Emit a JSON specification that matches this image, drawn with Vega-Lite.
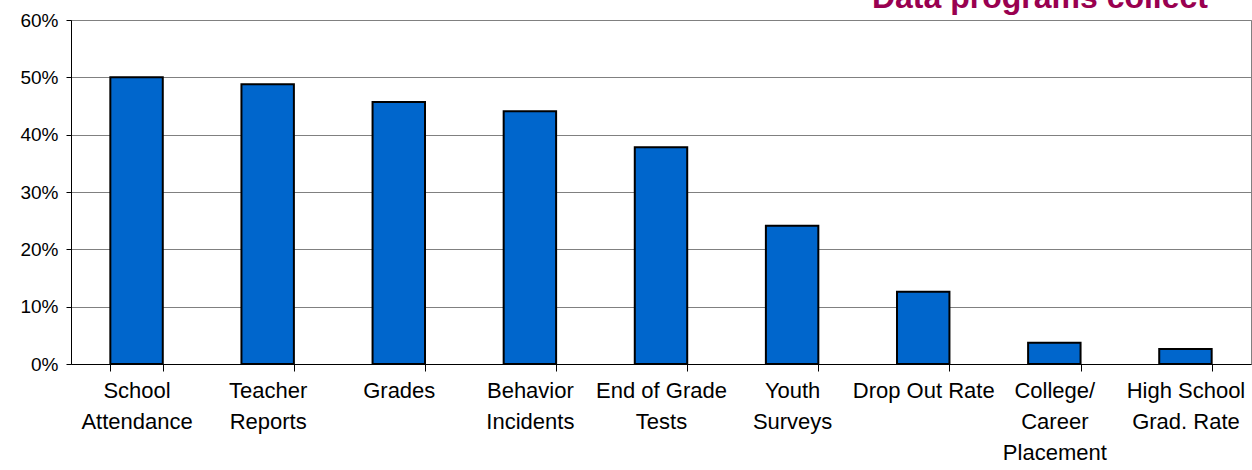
{
  "$schema": "https://vega.github.io/schema/vega-lite/v6.json",
  "width": 1180,
  "height": 344,
  "autosize": "none",
  "padding": {"left": 71, "top": 20, "right": 1, "bottom": 106},
  "background": "white",
  "config": {
    "view": {"stroke": "#808080", "strokeWidth": 1},
    "font": "Liberation Sans"
  },
  "title": {
    "text": "Data programs collect",
    "anchor": "end",
    "frame": "group",
    "color": "#990050",
    "font": "Liberation Sans",
    "fontSize": 32,
    "fontWeight": "bold",
    "baseline": "alphabetic",
    "offset": 0,
    "dx": -43,
    "dy": 29
  },
  "data": {
    "values": [
      {"category": "School\nAttendance", "share": 0.500},
      {"category": "Teacher\nReports", "share": 0.488},
      {"category": "Grades", "share": 0.457},
      {"category": "Behavior\nIncidents", "share": 0.441},
      {"category": "End of Grade\nTests", "share": 0.378},
      {"category": "Youth\nSurveys", "share": 0.241},
      {"category": "Drop Out Rate", "share": 0.126},
      {"category": "College/\nCareer\nPlacement", "share": 0.037},
      {"category": "High School\nGrad. Rate", "share": 0.026}
    ]
  },
  "mark": {"type": "bar", "color": "#0066CC", "stroke": "#000000", "strokeWidth": 2},
  "encoding": {
    "x": {
      "field": "category",
      "type": "nominal",
      "sort": null,
      "scale": {"paddingInner": 0.6, "paddingOuter": 0.3},
      "axis": {
        "title": null,
        "labelAngle": 0,
        "labelExpr": "isValid(datum.value) ? split(datum.value, '\\n') : ''",
        "labelFont": "Liberation Sans",
        "labelFontSize": 22,
        "labelColor": "#000000",
        "labelLineHeight": 31,
        "labelPadding": 9,
        "labelBaseline": "top",
        "tickBand": "extent",
        "tickSize": 7,
        "tickColor": "#000000",
        "domainColor": "#000000",
        "labelLimit": 200
      }
    },
    "y": {
      "field": "share",
      "type": "quantitative",
      "scale": {"domain": [0, 0.6], "nice": false},
      "axis": {
        "title": null,
        "format": ".0%",
        "values": [0, 0.1, 0.2, 0.3, 0.4, 0.5, 0.6],
        "labelFont": "Liberation Sans",
        "labelFontSize": 19,
        "labelColor": "#000000",
        "labelPadding": 8,
        "tickSize": 5,
        "tickColor": "#000000",
        "domainColor": "#000000",
        "grid": true,
        "gridColor": "#808080",
        "gridWidth": 1
      }
    }
  }
}
